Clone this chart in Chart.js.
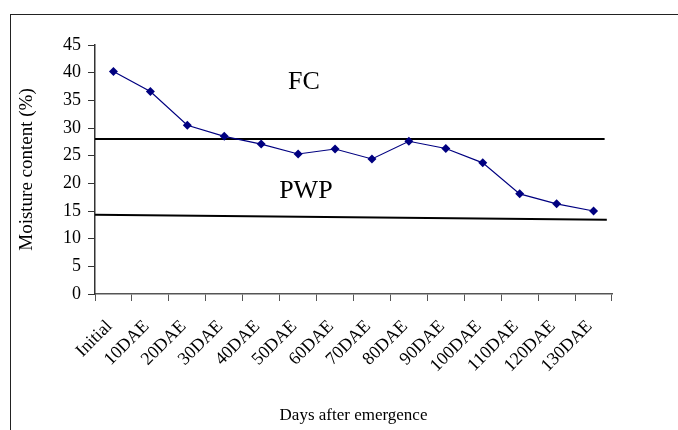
<!DOCTYPE html>
<html>
<head>
<meta charset="utf-8">
<script src="https://cdn.jsdelivr.net/npm/chart.js@4/dist/chart.umd.min.js"></script>
<style>
  html, body { margin: 0; padding: 0; background: #fff; }
  #wrap { width: 678px; height: 430px; }
</style>
</head>
<body>
<div id="wrap"><canvas id="c" width="678" height="430"></canvas></div>
<script>
// Categories (x axis)
const categories = ['Initial', '10DAE', '20DAE', '30DAE', '40DAE', '50DAE', '60DAE',
  '70DAE', '80DAE', '90DAE', '100DAE', '110DAE', '120DAE', '130DAE'];
// Moisture content (%)
const moisture = [40.2, 36.6, 30.5, 28.5, 27.1, 25.3, 26.2, 24.4, 27.6, 26.3, 23.7, 18.1, 16.3, 15.0];
// Reference lines (x in category-width units from the y axis)
const fcLineX = [0, 13.8];
const fcLineY = [28.0, 28.0];
const pwpLineX = [0, 13.86];
const pwpLineY = [14.3, 13.4];
// Y tick settings
const yMin = 0, yMax = 45, yStep = 5;
// Annotation labels
const noteText = ['FC', 'PWP'];
const noteX = [5.66, 5.71];
const noteY = [38.3, 18.5];

const serif = "'Liberation Serif', 'Times New Roman', serif";

const framePlugin = {
  id: 'frame',
  afterDraw(chart) {
    const ctx = chart.ctx;
    ctx.save();
    ctx.strokeStyle = '#222';
    ctx.lineWidth = 1;
    ctx.strokeRect(10.5, 14.5, 700, 500);
    const xs = chart.scales.x2, ys = chart.scales.y;
    ctx.fillStyle = '#000';
    ctx.font = '26px ' + serif;
    ctx.textAlign = 'center';
    ctx.textBaseline = 'middle';
    noteText.forEach((t, i) => {
      ctx.fillText(t, xs.getPixelForValue(noteX[i]), ys.getPixelForValue(noteY[i]));
    });
    ctx.restore();
  }
};

new Chart(document.getElementById('c'), {
  type: 'line',
  data: {
    labels: categories,
    datasets: [
      {
        data: moisture,
        xAxisID: 'x',
        borderColor: '#000080',
        backgroundColor: '#000080',
        borderWidth: 1.2,
        pointStyle: 'rectRot',
        pointRadius: 4.5,
        pointBorderWidth: 0,
        tension: 0,
        order: 0
      },
      {
        data: fcLineX.map((x, i) => ({ x: x, y: fcLineY[i] })),
        xAxisID: 'x2',
        borderColor: '#000',
        borderWidth: 2,
        pointRadius: 0,
        order: 1
      },
      {
        data: pwpLineX.map((x, i) => ({ x: x, y: pwpLineY[i] })),
        xAxisID: 'x2',
        borderColor: '#000',
        borderWidth: 2,
        pointRadius: 0,
        order: 1
      }
    ]
  },
  options: {
    responsive: false,
    animation: false,
    layout: { padding: { left: 0, right: 66, top: 45, bottom: 0 } },
    plugins: { legend: { display: false }, tooltip: { enabled: false } },
    scales: {
      x: {
        type: 'category',
        offset: true,
        afterFit(s) { s.height = 136; },
        grid: { display: true, offset: true, drawOnChartArea: false, tickLength: 7, color: '#555', tickColor: '#555' },
        border: { display: true, color: '#555', width: 1.5 },
        ticks: {
          autoSkip: false, minRotation: 45, maxRotation: 45, padding: 15, labelOffset: -4,
          color: '#000', font: { family: serif, size: 18 }
        },
        title: {
          display: true, text: 'Days after emergence', color: '#000',
          font: { family: serif, size: 17 }, padding: { top: 0, bottom: 4 }
        }
      },
      x2: {
        type: 'linear', display: false, min: 0, max: 14
      },
      y: {
        min: yMin, max: yMax,
        afterFit(s) { s.width = 95; },
        grid: { display: true, drawOnChartArea: false, tickLength: 7, color: '#333', tickColor: '#333' },
        border: { display: true, color: '#333', width: 1.5 },
        ticks: { stepSize: yStep, padding: 7, color: '#000', font: { family: serif, size: 18 } },
        title: {
          display: true, text: 'Moisture content (%)', color: '#000',
          font: { family: serif, size: 19 }, padding: { top: 16, bottom: 0 }
        }
      }
    }
  },
  plugins: [framePlugin]
});
</script>
</body>
</html>
